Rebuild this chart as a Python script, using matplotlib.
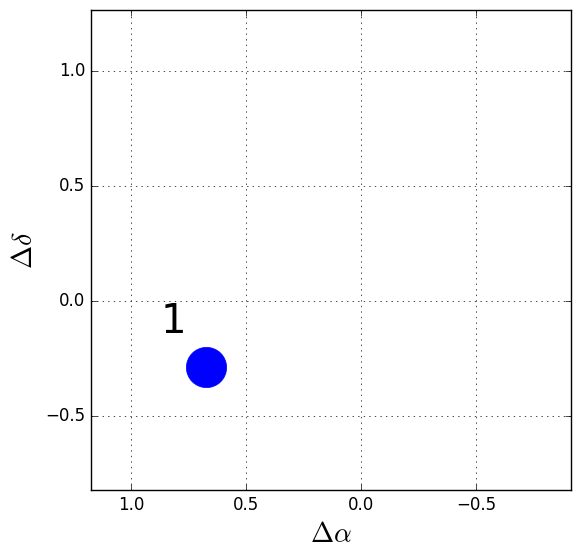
import matplotlib
matplotlib.use("Agg")
import matplotlib.pyplot as plt

plt.style.use('classic')

# source offsets
ra_off = [0.674]
dec_off = [-0.287]
labels = ["1"]
label_dx = 0.143
label_dy = 0.148

fig = plt.figure(figsize=(5.8, 5.58), dpi=100)
fig.patch.set_facecolor('white')
ax = fig.add_axes([0.157, 0.1219, 0.8276, 0.8602])

ax.plot(ra_off, dec_off, 'o', color='blue', markeredgecolor='blue', markersize=29)
for x, y, s in zip(ra_off, dec_off, labels):
    ax.text(x + label_dx, y + label_dy, s, fontsize=29, ha='center', va='baseline')

ax.set_xlim(1.174, -0.913)
ax.set_ylim(-0.822, 1.265)
ax.set_xticks([1.0, 0.5, 0.0, -0.5])
ax.set_yticks([-0.5, 0.0, 0.5, 1.0])
ax.grid(True)
ax.set_xlabel(r'$\Delta\alpha$', fontsize=20)
ax.set_ylabel(r'$\Delta\delta$', fontsize=20)

fig.savefig('out.png', dpi=100, facecolor='white')
